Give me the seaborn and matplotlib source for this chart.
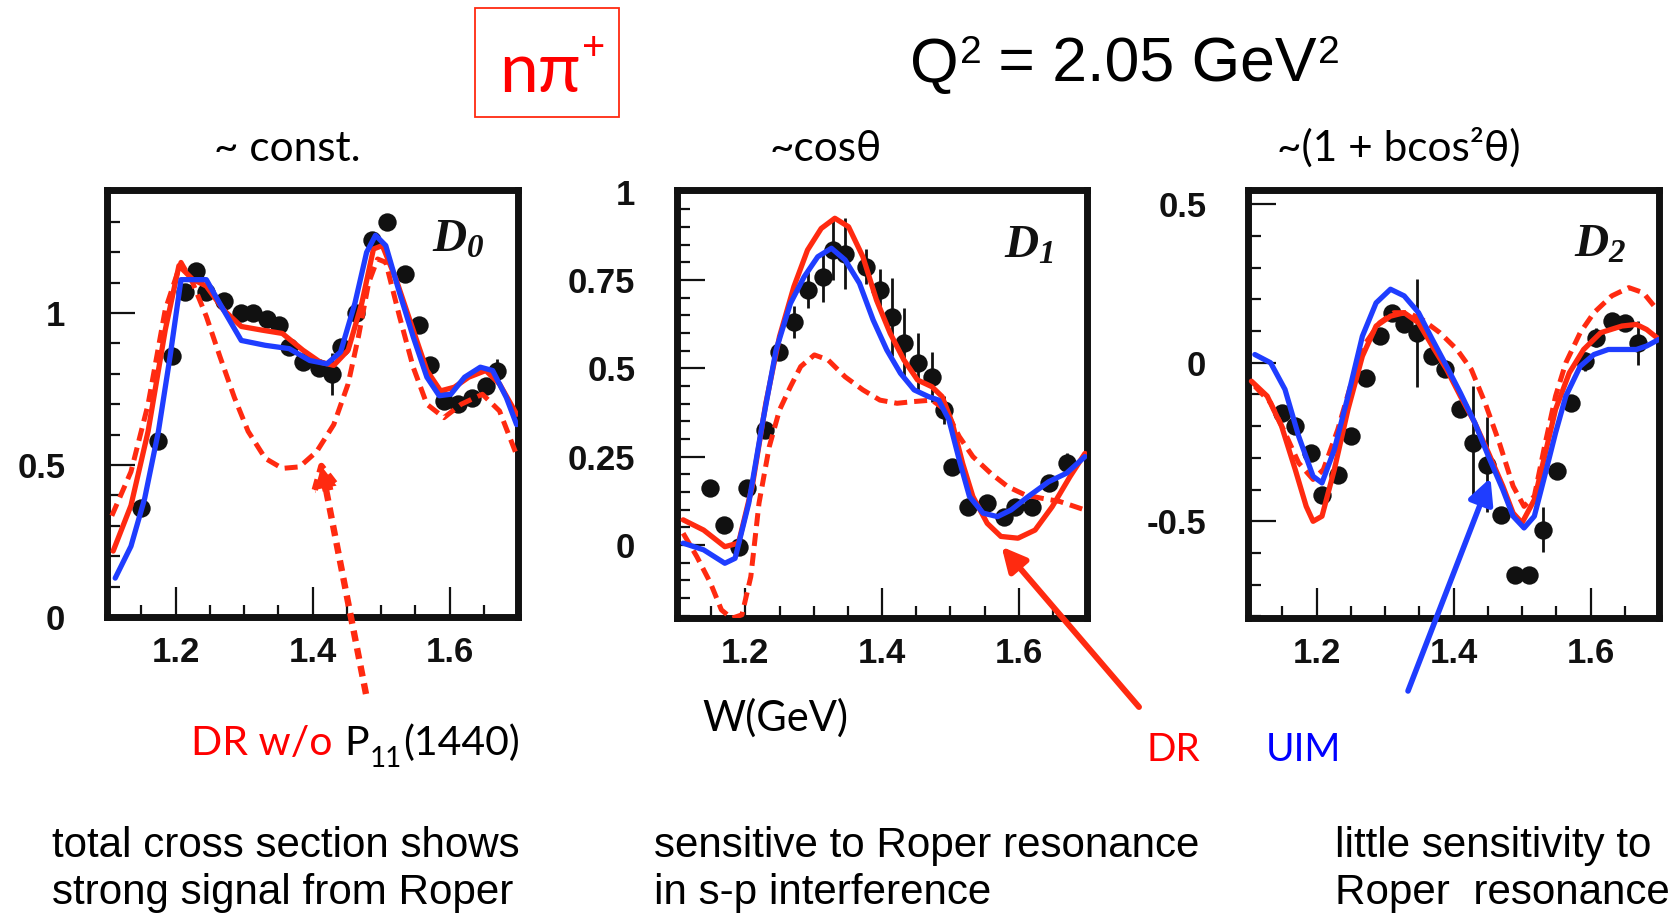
import numpy as np
import pandas as pd
import matplotlib
matplotlib.use("Agg")
import matplotlib.pyplot as plt
import matplotlib.patches as mpatches
from matplotlib.ticker import MultipleLocator
import seaborn as sns

# ---------------- data ----------------
# Panel D0
d0_w = [1.150, 1.174, 1.195, 1.214, 1.230, 1.244, 1.271, 1.296, 1.313, 1.333, 1.351, 1.366, 1.386, 1.409,
        1.429, 1.441, 1.464, 1.487, 1.509, 1.535, 1.555, 1.572, 1.592, 1.612, 1.633, 1.653, 1.670]
d0_v = [0.36, 0.58, 0.86, 1.07, 1.14, 1.07, 1.04, 1.00, 1.00, 0.98, 0.96, 0.89, 0.84, 0.82,
        0.80, 0.89, 1.00, 1.24, 1.30, 1.13, 0.96, 0.83, 0.71, 0.70, 0.72, 0.76, 0.81]
d0_e = [0.02, 0.02, 0.02, 0.02, 0.02, 0.02, 0.02, 0.02, 0.02, 0.02, 0.02, 0.02, 0.02, 0.02,
        0.07, 0.02, 0.02, 0.02, 0.02, 0.02, 0.02, 0.02, 0.02, 0.02, 0.02, 0.02, 0.04]
d0_uim_w = [1.112, 1.135, 1.155, 1.175, 1.192, 1.208, 1.225, 1.245, 1.265, 1.296, 1.331, 1.366, 1.396, 1.421,
            1.441, 1.462, 1.479, 1.492, 1.507, 1.527, 1.547, 1.567, 1.585, 1.602, 1.622, 1.645, 1.663, 1.683, 1.698]
d0_uim_v = [0.128, 0.233, 0.39, 0.61, 0.856, 1.11, 1.11, 1.11, 1.03, 0.91, 0.894, 0.883, 0.844, 0.833,
            0.872, 1.033, 1.20, 1.256, 1.222, 1.067, 0.922, 0.789, 0.728, 0.733, 0.789, 0.822, 0.811, 0.722, 0.633]
d0_dr_w = [1.109, 1.135, 1.160, 1.185, 1.205, 1.225, 1.245, 1.270, 1.296, 1.326, 1.356, 1.386, 1.411, 1.431,
           1.452, 1.472, 1.489, 1.502, 1.522, 1.547, 1.567, 1.587, 1.607, 1.628, 1.653, 1.673, 1.698]
d0_dr_v = [0.217, 0.367, 0.611, 0.944, 1.156, 1.111, 1.089, 1.011, 0.956, 0.944, 0.933, 0.878, 0.839, 0.828,
           0.878, 1.033, 1.211, 1.222, 1.111, 0.944, 0.811, 0.744, 0.756, 0.789, 0.811, 0.767, 0.667]
d0_nop11_w = [1.107, 1.135, 1.160, 1.185, 1.208, 1.225, 1.245, 1.265, 1.286, 1.306, 1.331, 1.356, 1.381, 1.406,
              1.431, 1.452, 1.467, 1.482, 1.495, 1.507, 1.527, 1.547, 1.567, 1.592, 1.617, 1.648, 1.673, 1.698]
d0_nop11_v = [0.333, 0.478, 0.70, 1.011, 1.167, 1.10, 0.989, 0.856, 0.722, 0.611, 0.522, 0.489, 0.494, 0.544,
              0.633, 0.767, 0.922, 1.10, 1.178, 1.167, 0.989, 0.822, 0.70, 0.656, 0.70, 0.733, 0.678, 0.533]

# Panel D1
d1_w = [1.149, 1.169, 1.190, 1.203, 1.229, 1.249, 1.271, 1.291, 1.314, 1.329, 1.346, 1.377, 1.397, 1.415,
        1.432, 1.452, 1.473, 1.490, 1.503, 1.526, 1.554, 1.579, 1.594, 1.619, 1.644, 1.670]
d1_v = [0.160, 0.057, -0.005, 0.160, 0.325, 0.547, 0.632, 0.722, 0.759, 0.835, 0.825, 0.788, 0.722, 0.646,
        0.571, 0.514, 0.476, 0.382, 0.222, 0.108, 0.118, 0.080, 0.108, 0.108, 0.175, 0.231]
d1_e = [0.01, 0.01, 0.01, 0.01, 0.02, 0.02, 0.045, 0.05, 0.07, 0.085, 0.10, 0.05, 0.06, 0.11,
        0.10, 0.085, 0.07, 0.04, 0.02, 0.02, 0.02, 0.02, 0.02, 0.02, 0.02, 0.03]
d1_dr_w = [1.109, 1.139, 1.170, 1.190, 1.210, 1.230, 1.250, 1.271, 1.291, 1.311, 1.331, 1.351, 1.372, 1.392,
           1.412, 1.432, 1.452, 1.473, 1.488, 1.503, 1.518, 1.533, 1.554, 1.574, 1.599, 1.624, 1.649, 1.675, 1.697]
d1_dr_v = [0.071, 0.042, -0.005, 0.005, 0.165, 0.401, 0.590, 0.731, 0.835, 0.896, 0.925, 0.901, 0.816, 0.693,
           0.599, 0.524, 0.467, 0.448, 0.420, 0.344, 0.231, 0.137, 0.061, 0.024, 0.019, 0.042, 0.108, 0.193, 0.259]
d1_uim_w = [1.109, 1.139, 1.170, 1.185, 1.205, 1.225, 1.245, 1.266, 1.286, 1.306, 1.326, 1.346, 1.367, 1.387,
            1.407, 1.427, 1.447, 1.468, 1.483, 1.498, 1.513, 1.528, 1.548, 1.569, 1.589, 1.614, 1.644, 1.670, 1.697]
d1_uim_v = [0.005, -0.014, -0.052, -0.038, 0.118, 0.344, 0.552, 0.684, 0.759, 0.816, 0.840, 0.807, 0.741, 0.637,
            0.552, 0.486, 0.439, 0.420, 0.410, 0.354, 0.241, 0.137, 0.090, 0.080, 0.099, 0.137, 0.179, 0.203, 0.250]
d1_nop11_w = [1.109, 1.129, 1.149, 1.165, 1.180, 1.195, 1.208, 1.220, 1.235, 1.250, 1.266, 1.281, 1.301, 1.321,
              1.346, 1.372, 1.397, 1.422, 1.447, 1.473, 1.493, 1.513, 1.533, 1.559, 1.584, 1.609, 1.634, 1.660, 1.697]
d1_nop11_v = [0.033, -0.033, -0.108, -0.184, -0.208, -0.198, -0.090, 0.118, 0.278, 0.382, 0.448, 0.505, 0.538, 0.524,
              0.476, 0.439, 0.410, 0.401, 0.406, 0.410, 0.382, 0.307, 0.250, 0.203, 0.165, 0.142, 0.132, 0.123, 0.099]

# Panel D2
d2_w = [1.149, 1.169, 1.192, 1.208, 1.231, 1.251, 1.272, 1.292, 1.310, 1.328, 1.346, 1.369, 1.387, 1.410,
        1.428, 1.449, 1.469, 1.490, 1.510, 1.531, 1.551, 1.572, 1.592, 1.608, 1.631, 1.651, 1.669]
d2_v = [-0.158, -0.200, -0.284, -0.416, -0.353, -0.232, -0.047, 0.084, 0.158, 0.121, 0.095, 0.021, -0.021, -0.147,
        -0.253, -0.321, -0.479, -0.668, -0.668, -0.526, -0.342, -0.126, 0.005, 0.079, 0.132, 0.126, 0.063]
d2_e = [0.02, 0.02, 0.02, 0.02, 0.02, 0.02, 0.02, 0.02, 0.02, 0.02, 0.17, 0.02, 0.02, 0.02,
        0.18, 0.15, 0.02, 0.02, 0.02, 0.07, 0.02, 0.02, 0.03, 0.03, 0.02, 0.02, 0.07]
d2_uim_w = [1.110, 1.133, 1.154, 1.174, 1.195, 1.208, 1.226, 1.246, 1.267, 1.287, 1.308, 1.328, 1.349, 1.369,
            1.390, 1.410, 1.431, 1.451, 1.472, 1.487, 1.503, 1.518, 1.533, 1.549, 1.564, 1.585, 1.605, 1.626,
            1.646, 1.667, 1.682, 1.700]
d2_uim_v = [0.026, 0.0, -0.084, -0.232, -0.358, -0.379, -0.274, -0.105, 0.084, 0.189, 0.232, 0.211, 0.158, 0.074,
            -0.011, -0.095, -0.189, -0.295, -0.400, -0.484, -0.521, -0.484, -0.358, -0.221, -0.105, -0.011, 0.026,
            0.042, 0.042, 0.042, 0.053, 0.074]
d2_dr_w = [1.105, 1.128, 1.149, 1.169, 1.185, 1.195, 1.208, 1.226, 1.246, 1.267, 1.287, 1.308, 1.328, 1.349,
           1.369, 1.390, 1.410, 1.431, 1.451, 1.472, 1.487, 1.500, 1.518, 1.533, 1.549, 1.569, 1.590, 1.615,
           1.646, 1.667, 1.682, 1.700]
d2_dr_v = [-0.058, -0.105, -0.200, -0.337, -0.453, -0.500, -0.484, -0.337, -0.147, 0.021, 0.116, 0.147, 0.158, 0.126,
           0.053, -0.021, -0.105, -0.189, -0.284, -0.389, -0.474, -0.505, -0.432, -0.295, -0.147, -0.032, 0.042,
           0.095, 0.116, 0.121, 0.105, 0.074]
d2_nop11_w = [1.110, 1.133, 1.154, 1.174, 1.195, 1.210, 1.231, 1.251, 1.272, 1.292, 1.313, 1.333, 1.354, 1.380,
              1.405, 1.426, 1.446, 1.467, 1.487, 1.503, 1.518, 1.533, 1.549, 1.564, 1.585, 1.605, 1.631, 1.656,
              1.677, 1.697]
d2_nop11_v = [-0.074, -0.126, -0.221, -0.316, -0.368, -0.337, -0.211, -0.063, 0.063, 0.126, 0.158, 0.158, 0.137, 0.095,
              0.042, -0.021, -0.126, -0.253, -0.389, -0.453, -0.421, -0.263, -0.105, 0.0, 0.095, 0.158, 0.211, 0.237,
              0.221, 0.168]

panel_labels = ["0", "1", "2"]
panel_titles = ["~ const.", "~cos\u03b8", "~(1 + bcos\u00b2\u03b8)"]
x_ticks = [1.2, 1.4, 1.6]
x_ticklabels = ["1.2", "1.4", "1.6"]
y_ticks = [[0, 0.5, 1], [0, 0.25, 0.5, 0.75, 1], [-0.5, 0, 0.5]]
y_ticklabels = [["0", "0.5", "1"], ["0", "0.25", "0.5", "0.75", "1"], ["-0.5", "0", "0.5"]]
bottom_notes = [["total cross section shows", "strong signal from Roper"],
                ["sensitive to Roper resonance", "in s-p interference"],
                ["little sensitivity to", "Roper  resonance"]]

# ---------------- style ----------------
sns.set_theme(style="white")
plt.rcParams["font.family"] = ["Liberation Sans", "DejaVu Sans"]
plt.rcParams["mathtext.fontset"] = "custom"
plt.rcParams["mathtext.it"] = "Liberation Serif:italic:bold"
plt.rcParams["mathtext.rm"] = "Liberation Serif:italic:bold"
plt.rcParams["mathtext.bf"] = "Liberation Serif:italic:bold"

W, H = 1680, 913
fig = plt.figure(figsize=(W / 100, H / 100), dpi=100)
fig.patch.set_facecolor("white")

RED = "#ff2a10"
BLUE = "#1f3dff"
CAL = ["Lato", "Open Sans", "DejaVu Sans"]
ARIAL = ["Liberation Sans", "DejaVu Sans"]


def fx(x):
    return x / W


def fy(y):
    return 1 - y / H


boxes = [(107, 518, 190, 617), (677, 1087, 190, 618), (1248, 1659, 190, 618)]
ylims = [(0, 1.405), (-0.207, 1.005), (-0.805, 0.545)]
yminor = [0.1, 0.05, 0.1]
label_pos = [(0.791, 0.855), (0.798, 0.841), (0.793, 0.843)]

series = [
    (d0_w, d0_v, d0_e, d0_nop11_w, d0_nop11_v, d0_dr_w, d0_dr_v, d0_uim_w, d0_uim_v),
    (d1_w, d1_v, d1_e, d1_nop11_w, d1_nop11_v, d1_dr_w, d1_dr_v, d1_uim_w, d1_uim_v),
    (d2_w, d2_v, d2_e, d2_nop11_w, d2_nop11_v, d2_dr_w, d2_dr_v, d2_uim_w, d2_uim_v),
]

axes = []
for i, (l, r, t, b) in enumerate(boxes):
    ax = fig.add_axes([fx(l), fy(b), (r - l) / W, (b - t) / H])
    axes.append(ax)
    w, v, e, nw, nv, dw, dv, uw, uv = series[i]
    ax.errorbar(w, v, yerr=e, fmt="none", ecolor="#111111", elinewidth=2.0, capsize=0, zorder=2)
    sns.scatterplot(x=w, y=v, ax=ax, color="#111111", s=175, edgecolor="#111111", linewidth=0, zorder=3)
    sns.lineplot(x=nw, y=nv, ax=ax, color=RED, lw=3.6, linestyle=(0, (2.6, 1.4)),
                 dash_capstyle="butt", zorder=4)
    sns.lineplot(x=dw, y=dv, ax=ax, color=RED, lw=3.8, zorder=5)
    sns.lineplot(x=uw, y=uv, ax=ax, color=BLUE, lw=3.8, zorder=6)

    ax.set_xlim(1.1, 1.7)
    ax.set_ylim(*ylims[i])
    ax.set_xticks(x_ticks, x_ticklabels)
    ax.set_yticks(y_ticks[i], y_ticklabels[i])
    ax.xaxis.set_minor_locator(MultipleLocator(0.05))
    ax.yaxis.set_minor_locator(MultipleLocator(yminor[i]))
    ax.tick_params(axis="x", which="major", direction="in", length=21.5, width=1.6, pad=14,
                   labelsize=25, bottom=True, top=False, colors="#111111")
    ax.tick_params(axis="y", which="major", direction="in", length=20, width=1.6, pad=30,
                   labelsize=25, left=True, right=False, colors="#111111")
    ax.tick_params(axis="both", which="minor", direction="in", length=9, width=1.6,
                   bottom=True, left=True, top=False, right=False, colors="#111111")
    for lab in ax.get_xticklabels() + ax.get_yticklabels():
        lab.set_fontweight("bold")
    for sp in ax.spines.values():
        sp.set_linewidth(5)
        sp.set_color("#111111")
        sp.set_visible(True)
    ax.set_xlabel("")
    ax.set_ylabel("")
    ax.set_facecolor("white")
    ax.grid(False)
    lx, ly = label_pos[i]
    ax.text(lx, ly, r"$\mathit{D}_{\mathit{%s}}$" % panel_labels[i], transform=ax.transAxes,
            fontsize=34, ha="left", va="baseline", color="#111111")

# ---------------- arrows ----------------
axes[0].annotate("", xy=(1.411, 0.52), xycoords="data", xytext=(fx(366), fy(694)),
                 textcoords="figure fraction", annotation_clip=False,
                 arrowprops=dict(arrowstyle="-|>", color=RED, lw=4.6, linestyle=(0, (1.7, 1.1)),
                                 capstyle="butt", mutation_scale=40, shrinkA=0, shrinkB=0))
axes[1].annotate("", xy=(1.575, -0.005), xycoords="data", xytext=(fx(1139), fy(707)),
                 textcoords="figure fraction", annotation_clip=False,
                 arrowprops=dict(arrowstyle="-|>", color=RED, lw=4.3, mutation_scale=36,
                                 shrinkA=0, shrinkB=0))
axes[2].annotate("", xy=(1.454, -0.363), xycoords="data", xytext=(fx(1408), fy(691)),
                 textcoords="figure fraction", annotation_clip=False,
                 arrowprops=dict(arrowstyle="-|>", color=BLUE, lw=4.0, mutation_scale=38,
                                 shrinkA=0, shrinkB=0))

# ---------------- texts ----------------
renderer = fig.canvas.get_renderer()


def chain(x, y, pieces):
    for s, kw in pieces:
        kw = dict(kw)
        dy = kw.pop("dy", 0)
        gap = kw.pop("gap", 0)
        t = fig.text(fx(x), fy(y + dy), s, ha="left", va="baseline", **kw)
        bb = t.get_window_extent(renderer=renderer)
        x = bb.x1 + gap


# title box
fig.add_artist(mpatches.Rectangle((fx(475), fy(117)), (619 - 475) / W, (117 - 8) / H,
                                  transform=fig.transFigure, fill=False, edgecolor=RED, lw=1.3))
chain(499, 92, [("n\u03c0", dict(fontsize=50, color="#ff0000", family=CAL, gap=1)),
                ("+", dict(fontsize=29, color="#ff0000", family=CAL, dy=-32))])
chain(910, 82, [("Q", dict(fontsize=45, color="black", family=ARIAL, gap=1)),
                ("2", dict(fontsize=28, color="black", family=ARIAL, dy=-19, gap=0)),
                (" = 2.05 GeV", dict(fontsize=45, color="black", family=ARIAL, gap=1)),
                ("2", dict(fontsize=28, color="black", family=ARIAL, dy=-19))])

title_x = [214, 770, 1277]
for tx, tt in zip(title_x, panel_titles):
    fig.text(fx(tx), fy(161), tt, fontsize=30.5, ha="left", va="baseline", color="black", family=CAL)

chain(191, 755, [("DR w/o", dict(fontsize=29.5, color="#ff0000", family=CAL, gap=12)),
                 ("P", dict(fontsize=29.5, color="black", family=CAL, gap=1)),
                 ("11", dict(fontsize=20, color="black", family=CAL, dy=12, gap=1)),
                 ("(1440)", dict(fontsize=29.5, color="black", family=CAL))])
fig.text(fx(702), fy(731), "W(GeV)", fontsize=30, ha="left", va="baseline", color="black", family=CAL)
fig.text(fx(1147), fy(761), "DR", fontsize=28, ha="left", va="baseline", color="#ff0000", family=CAL)
fig.text(fx(1266), fy(761), "UIM", fontsize=28, ha="left", va="baseline", color="#0000ff", family=CAL)

note_x = [52, 654, 1335]
for nx, lines in zip(note_x, bottom_notes):
    for k, line in enumerate(lines):
        fig.text(fx(nx), fy(857 + 47 * k), line, fontsize=30.3, ha="left", va="baseline",
                 color="black", family=ARIAL)

fig.savefig("out.png", dpi=100, facecolor="white")
